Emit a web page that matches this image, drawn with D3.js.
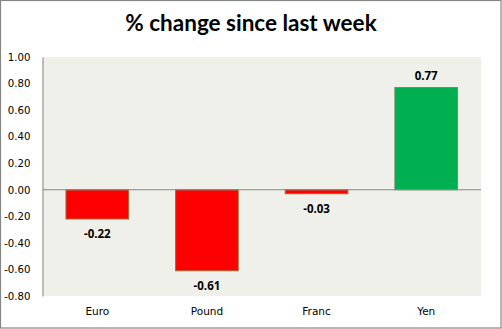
<!DOCTYPE html>
<html><head><meta charset="utf-8">
<script src="https://cdn.jsdelivr.net/npm/d3@7"></script>
<style>html,body{margin:0;padding:0;background:#fff;}svg{display:block;}</style>
</head><body>
<script>
const categories = ["Euro", "Pound", "Franc", "Yen"];
const values = [-0.22, -0.61, -0.03, 0.77];
const tickValues = [1.0, 0.8, 0.6, 0.4, 0.2, 0.0, -0.2, -0.4, -0.6, -0.8];
const title = "% change since last week";

const W = 502, H = 329;
const plot = {left: 42.5, right: 481, top: 57, bottom: 296};
const fmt = d => d3.format(".2f")(d).replace("\u2212", "-");

const svg = d3.select("body").append("svg").attr("width", W).attr("height", H);
svg.append("rect").attr("x", 0).attr("y", 0).attr("width", W).attr("height", H).attr("fill", "#fff");
svg.append("rect").attr("x", 0.5).attr("y", 0.5).attr("width", 500.5).attr("height", 327.5)
  .attr("fill", "none").attr("stroke", "#868686").attr("stroke-width", 1.2);

const x = d3.scaleBand().domain(categories).range([plot.left, plot.right]).paddingInner(0.75/1.75).paddingOuter(0.75/1.75/2);
const y = d3.scaleLinear().domain([-0.8, 1.0]).range([plot.bottom, plot.top]);

svg.append("rect").attr("x", plot.left).attr("y", plot.top).attr("width", plot.right - plot.left)
  .attr("height", plot.bottom - plot.top).attr("fill", "#EFF0E9");

svg.append("text").attr("x", 251).attr("y", 31).attr("text-anchor", "middle")
  .attr("font-family", "Lato, 'Open Sans', sans-serif").attr("font-weight", "bold")
  .attr("font-size", 22.5).attr("fill", "#000").text(title);

// y axis
const yAxis = d3.axisLeft(y).tickValues(tickValues).tickFormat(fmt).tickSize(0).tickPadding(12);
const ga = svg.append("g").attr("transform", `translate(${plot.left},0)`).call(yAxis);
ga.select(".domain").attr("stroke", "#868686");
ga.selectAll("text").attr("font-family", "'DejaVu Sans', sans-serif").attr("font-size", 10.2).attr("fill", "#000");

// bars
svg.selectAll("rect.bar").data(values).join("rect").attr("class", "bar")
  .attr("x", (d, i) => x(categories[i]))
  .attr("width", x.bandwidth())
  .attr("y", d => y(Math.max(0, d)))
  .attr("height", d => Math.abs(y(d) - y(0)))
  .attr("fill", d => d < 0 ? "#FF0000" : "#00B050")
  .attr("stroke", d => d < 0 ? "#9A6B3A" : "#6E8E6E")
  .attr("stroke-width", 1);

// zero line
svg.append("line").attr("x1", plot.left).attr("x2", plot.right).attr("y1", y(0)).attr("y2", y(0))
  .attr("stroke", "#868686").attr("stroke-width", 1);

// data labels
svg.selectAll("text.lbl").data(values).join("text").attr("class", "lbl")
  .attr("x", (d, i) => x(categories[i]) + x.bandwidth() / 2)
  .attr("y", d => d < 0 ? y(d) + 19 : y(d) - 8)
  .attr("text-anchor", "middle")
  .attr("font-family", "'Open Sans', sans-serif").attr("font-weight", "bold")
  .attr("font-size", 11.5).attr("fill", "#000")
  .text(fmt);

// x axis labels
const xAxis = d3.axisBottom(x).tickSize(0).tickPadding(12);
const gx = svg.append("g").attr("transform", `translate(0,${plot.bottom})`).call(xAxis);
gx.select(".domain").remove();
gx.selectAll("text").attr("font-family", "'DejaVu Sans', sans-serif").attr("font-size", 10.5).attr("fill", "#000");
</script>
</body></html>
